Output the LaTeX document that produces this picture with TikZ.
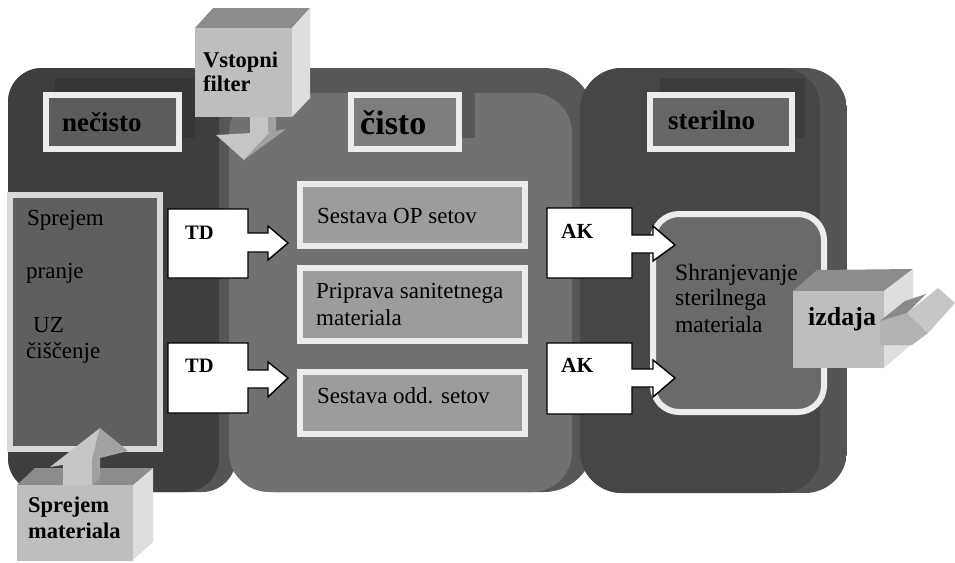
\documentclass[tikz,border=0pt]{standalone}
\usepackage{fontspec}
\setmainfont{Liberation Serif}
\definecolor{leftFace}{HTML}{3E3E3E}
\definecolor{leftRim}{HTML}{555555}
\definecolor{leftBand}{HTML}{363636}
\definecolor{midRim}{HTML}{575757}
\definecolor{midFace}{HTML}{717171}
\definecolor{midBand}{HTML}{575757}
\definecolor{rightFace}{HTML}{464646}
\definecolor{rightRim}{HTML}{545454}
\definecolor{rightBand}{HTML}{3C3C3C}
\definecolor{lblL}{HTML}{5C5C5C}
\definecolor{lblM}{HTML}{7E7E7E}
\definecolor{lblR}{HTML}{676767}
\definecolor{boxBorder}{HTML}{ECECEC}
\definecolor{midBox}{HTML}{9C9C9C}
\definecolor{colBox}{HTML}{5F5F5F}
\definecolor{colBorder}{HTML}{D9D9D9}
\definecolor{storeFill}{HTML}{6A6A6A}
\definecolor{cubeFront}{HTML}{BEBEBE}
\definecolor{cubeTop}{HTML}{8C8C8C}
\definecolor{cubeSide}{HTML}{DEDEDE}
\definecolor{arrLight}{HTML}{C6C6C6}
\definecolor{arrMid}{HTML}{B2B2B2}
\definecolor{arrDark}{HTML}{A2A2A2}
\definecolor{arrDarker}{HTML}{8A8A8A}
\tikzset{
  boxnode/.style={rectangle, line width=6pt, inner sep=0pt},
  lbltxt/.style={anchor=base west, inner sep=0pt, font=\bfseries\fontsize{27}{30}\selectfont},
  reg/.style={anchor=base west, inner sep=0pt, font=\fontsize{23}{26}\selectfont},
  boldtxt/.style={anchor=base west, inner sep=0pt, font=\bfseries\fontsize{22.5}{25}\selectfont},
  calloutshape/.style={fill=white, draw=black, line width=1.4pt, line join=miter},
}
\begin{document}
\begin{tikzpicture}[x=1pt,y=-1pt]
\useasboundingbox (0,0) rectangle (955,562);
\fill[white] (0,0) rectangle (955,562);

% ---------- left panel (necisto)
\fill[leftRim, rounded corners=34pt] (8,68) rectangle (236,492);
\fill[leftFace, rounded corners=34pt] (8,68) rectangle (219,492);
\fill[leftBand] (55,78) rectangle (195,138);

% ---------- middle panel (cisto)
\fill[midRim, rounded corners=50pt] (224,68) rectangle (594,492);
\fill[midFace, rounded corners=40pt] (229,93) rectangle (572,492);
\fill[midBand] (360,78) rectangle (475,138);

% ---------- right panel (sterilno)
\begin{scope}
  \clip[rounded corners=42pt] (580,68) rectangle (847,493);
  \fill[rightRim] (580,68) rectangle (847,493);
  \fill[rightFace, rounded corners=38pt] (580,68) rectangle (820,493);
  \fill[rightBand] (660,78) rectangle (805,138);
\end{scope}

% ---------- title boxes
\node[boxnode, draw=boxBorder, fill=lblL, minimum width=133pt, minimum height=54pt] (necbox) at (112.5,122) {};
\node[lbltxt] (nectxt) at (62,131) {nečisto};
\node[boxnode, draw=boxBorder, fill=lblM, minimum width=108pt, minimum height=54pt] (cisbox) at (405,122) {};
\node[lbltxt, font=\bfseries\fontsize{34}{36}\selectfont] (cistxt) at (360,134) {čisto};
\node[boxnode, draw=boxBorder, fill=lblR, minimum width=142pt, minimum height=54pt] (sterbox) at (721,122) {};
\node[lbltxt] (stertxt) at (668,129) {sterilno};

% ---------- left column box
\node[boxnode, draw=colBorder, fill=colBox, minimum width=150pt, minimum height=254pt] (colbox) at (85,322) {};
\node[reg] (c1) at (27,225) {Sprejem};
\node[reg] (c2) at (26,278) {pranje};
\node[reg] (c3) at (33,332) {UZ};
\node[reg] (c4) at (26,358) {čiščenje};

% ---------- middle boxes
\node[boxnode, draw=boxBorder, fill=midBox, minimum width=225pt, minimum height=62pt] (opset) at (412.5,215) {};
\node[reg] (optxt) at (317,223) {Sestava OP setov};
\node[boxnode, draw=boxBorder, fill=midBox, minimum width=225pt, minimum height=73pt] (sanit) at (412.5,304.5) {};
\node[reg] (sa1) at (316,298) {Priprava sanitetnega};
\node[reg] (sa2) at (316,325) {materiala};
\node[boxnode, draw=boxBorder, fill=midBox, minimum width=225pt, minimum height=62pt] (oddset) at (412.5,403) {};
\node[reg] (oddtxt) at (317,403) {Sestava odd. setov};

% ---------- storage box
\node[boxnode, draw=boxBorder, fill=storeFill, rounded corners=26pt, minimum width=171pt, minimum height=198pt] (store) at (738.5,313) {};
\node[reg, font=\fontsize{23.5}{26}\selectfont] (st1) at (675,280) {Shranjevanje};
\node[reg, font=\fontsize{23.5}{26}\selectfont] (st2) at (675,305) {sterilnega};
\node[reg, font=\fontsize{23.5}{26}\selectfont] (st3) at (675,332) {materiala};

% ---------- callouts TD / AK
\coordinate (td1) at (168,209);
\draw[calloutshape] (td1) -- ++(80,0) -- ++(0,24) -- ++(20,0) -- ++(0,-7) -- ++(20,17) -- ++(-20,17) -- ++(0,-8) -- ++(-20,0) -- ++(0,26) -- ++(-80,0) -- cycle;
\node[boldtxt, font=\bfseries\fontsize{20.5}{22}\selectfont] (tdtxt1) at (185,239) {TD};
\coordinate (td2) at (168,343);
\draw[calloutshape] (td2) -- ++(80,0) -- ++(0,27) -- ++(20,0) -- ++(0,-8) -- ++(20,16) -- ++(-20,19) -- ++(0,-9) -- ++(-20,0) -- ++(0,25) -- ++(-80,0) -- cycle;
\node[boldtxt, font=\bfseries\fontsize{20.5}{22}\selectfont] (tdtxt2) at (185,372) {TD};
\coordinate (ak1) at (547,208);
\draw[calloutshape] (ak1) -- ++(85,0) -- ++(0,27) -- ++(21,0) -- ++(0,-9) -- ++(22,19) -- ++(-22,16) -- ++(0,-8) -- ++(-21,0) -- ++(0,25) -- ++(-85,0) -- cycle;
\node[boldtxt, font=\bfseries\fontsize{21.5}{23}\selectfont] (aktxt1) at (561,238) {AK};
\coordinate (ak2) at (547,343);
\draw[calloutshape] (ak2) -- ++(85,0) -- ++(0,26) -- ++(21,0) -- ++(0,-9) -- ++(22,18) -- ++(-22,19) -- ++(0,-10) -- ++(-21,0) -- ++(0,27) -- ++(-85,0) -- cycle;
\node[boldtxt, font=\bfseries\fontsize{21.5}{23}\selectfont] (aktxt2) at (561,372) {AK};

% ---------- cube: Vstopni filter
\fill[arrDark] (268,115) -- (276,110) -- (276,130) -- (268,134) -- cycle;
\fill[arrLight] (250,115) rectangle (268,134);
\fill[arrLight] (216,135) -- (270,132) -- (244,160) -- cycle;
\fill[arrDark] (270,132) -- (286,129) -- (244,160) -- cycle;
\fill[cubeTop] (195,28) -- (213,8) -- (310,8) -- (292,28) -- cycle;
\fill[cubeSide] (292,28) -- (310,8) -- (310,98) -- (292,117) -- cycle;
\node[rectangle, fill=cubeFront, inner sep=0pt, minimum width=97pt, minimum height=89pt] (filt) at (243.5,72.5) {};
\node[boldtxt] (f1) at (203,67) {Vstopni};
\node[boldtxt] (f2) at (203,91) {filter};

% ---------- cube: Sprejem materiala
\fill[cubeTop] (17,485) -- (35,468) -- (153,468) -- (133,485) -- cycle;
\fill[arrDark] (92,458) -- (100,455) -- (100,478) -- (92,485) -- cycle;
\fill[arrLight] (63,458) rectangle (92,485);
\fill[arrLight] (50,467) -- (100,428) -- (92,460) -- cycle;
\fill[arrDark] (100,428) -- (128,451) -- (92,460) -- cycle;
\fill[cubeSide] (133,485) -- (153,468) -- (153,542) -- (133,560) -- cycle;
\node[rectangle, fill=cubeFront, inner sep=0pt, minimum width=116pt, minimum height=76pt] (recv) at (75,523) {};
\node[boldtxt] (r1) at (28,512) {Sprejem};
\node[boldtxt] (r2) at (28,538) {materiala};

% ---------- cube: izdaja
\fill[cubeTop] (793,291) -- (817,270) -- (913,269) -- (884,291) -- cycle;
\fill[cubeSide] (884,291) -- (913,269) -- (913,343) -- (884,368) -- cycle;
\node[rectangle, fill=cubeFront, inner sep=0pt, minimum width=91pt, minimum height=77pt] (izd) at (838.5,329.5) {};
\fill[arrMid] (880,321) -- (907,313) -- (928,333) -- (912,345) -- (880,345) -- cycle;
\fill[arrDarker] (880,321) -- (905,301) -- (926,294) -- (907,313) -- cycle;
\fill[arrLight] (907,313) -- (938,288) -- (955,303) -- (928,333) -- cycle;
\node[boldtxt, font=\bfseries\fontsize{26}{28}\selectfont] (izdtxt) at (808,325) {izdaja};
\end{tikzpicture}
\end{document}
